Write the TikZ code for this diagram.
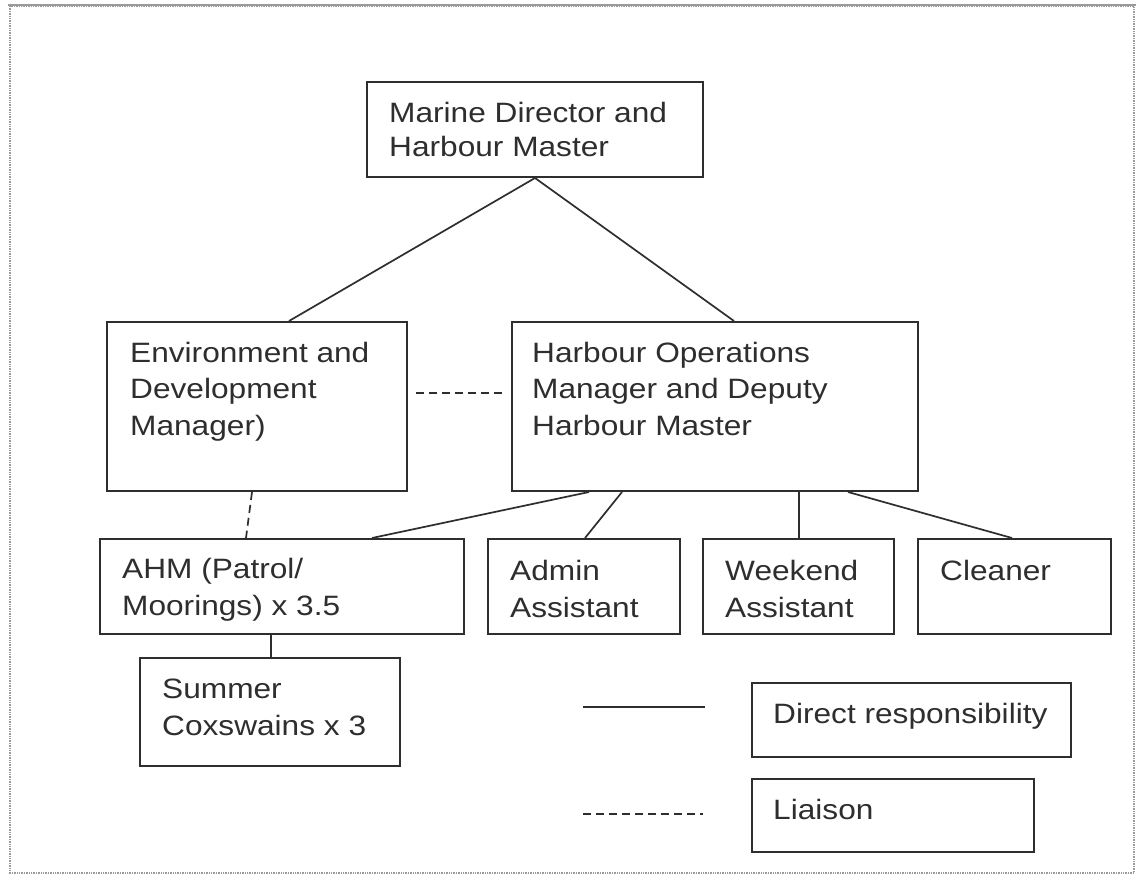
\documentclass[tikz,border=0pt]{standalone}
\usepackage{fontspec}
\setmainfont{Liberation Sans}[FakeStretch=1.13]
\usetikzlibrary{calc}
\definecolor{ink}{HTML}{2E2E2E}
\definecolor{frame}{HTML}{9A9A9A}
\begin{document}
\begin{tikzpicture}[x=1pt,y=-1pt,
  box/.style={draw=ink, line width=2pt, inner sep=0pt, rectangle},
  txt/.style={text=ink, inner sep=0pt, align=left, anchor=base west,
     font=\fontsize{28}{36.5}\selectfont},
  rel/.style={draw=ink, line width=1.7pt},
  liaise/.style={draw=ink, line width=1.7pt, dash pattern=on 8pt off 5pt}]
\useasboundingbox (0,0) rectangle (1140,876);
\fill[white] (0,0) rectangle (1140,876);
% frame
\draw[frame, line width=1.4pt, densely dotted] (10,6) rectangle (1134,873);
\draw[frame, line width=2.5pt] (8,5) -- (1136,5);
% boxes
\newcommand{\mkbox}[5]{\node[box, minimum width=#4-#2, minimum height=#5-#3] (#1) at ({(#2+#4)/2},{(#3+#5)/2}) {};}
\mkbox{marine}{367}{82}{703}{177}
\mkbox{env}{107}{322}{407}{491}
\mkbox{hom}{512}{322}{918}{491}
\mkbox{ahm}{100}{539}{464}{634}
\mkbox{admin}{488}{539}{680}{634}
\mkbox{weekend}{703}{539}{894}{634}
\mkbox{cleaner}{918}{539}{1111}{634}
\mkbox{summer}{140}{658}{400}{766}
\mkbox{direct}{752}{683}{1071}{757}
\mkbox{liaison}{752}{779}{1034}{852}
% texts (anchor = baseline of the last line)
\node[txt, font=\fontsize{28}{34}\selectfont] (tmarine) at (389,156) {Marine Director and\\Harbour Master};
\node[txt] (tenv) at (130,435) {Environment and\\Development\\Manager)};
\node[txt] (thom) at (532,435) {Harbour Operations\\Manager and Deputy\\Harbour Master};
\node[txt, font=\fontsize{28}{37}\selectfont] (tahm) at (122,615) {AHM (Patrol/\\Moorings) x 3.5};
\node[txt, font=\fontsize{28}{37}\selectfont] (tadmin) at (510,617) {Admin\\Assistant};
\node[txt, font=\fontsize{28}{37}\selectfont] (tweekend) at (725,617) {Weekend\\Assistant};
\node[txt] (tcleaner) at (940,580) {Cleaner};
\node[txt, font=\fontsize{28}{37}\selectfont] (tsummer) at (162,735) {Summer\\Coxswains x 3};
\node[txt] (tdirect) at (773,723) {Direct responsibility};
\node[txt] (tliaison) at (773,819) {Liaison};
% connectors
\draw[rel] (marine.south) -- ([xshift=183pt]env.north west);
\draw[rel] (marine.south) -- ([xshift=223pt]hom.north west);
\draw[liaise, shorten <=8pt, shorten >=5pt] ([yshift=13.5pt]env.east) -- ([yshift=13.5pt]hom.west);
\draw[liaise] ([xshift=146pt]env.south west) -- ([xshift=147pt]ahm.north west);
\draw[rel] ([xshift=78pt]hom.south west) -- ([xshift=273pt]ahm.north west);
\draw[rel] ([xshift=111pt]hom.south west) -- ([xshift=98pt]admin.north west);
\draw[rel] ([xshift=288pt]hom.south west) -- ([xshift=97pt]weekend.north west);
\draw[rel] ([xshift=337pt]hom.south west) -- ([xshift=95pt]cleaner.north west);
\draw[rel] ([xshift=172pt]ahm.south west) -- ([xshift=132pt]summer.north west);
% legend
\coordinate (ls1) at (583,707);
\coordinate (ls2) at (705,707);
\coordinate (ld1) at (583,814);
\coordinate (ld2) at (703,814);
\draw[rel] (ls1) -- (ls2);
\draw[liaise] (ld1) -- (ld2);
\end{tikzpicture}
\end{document}
